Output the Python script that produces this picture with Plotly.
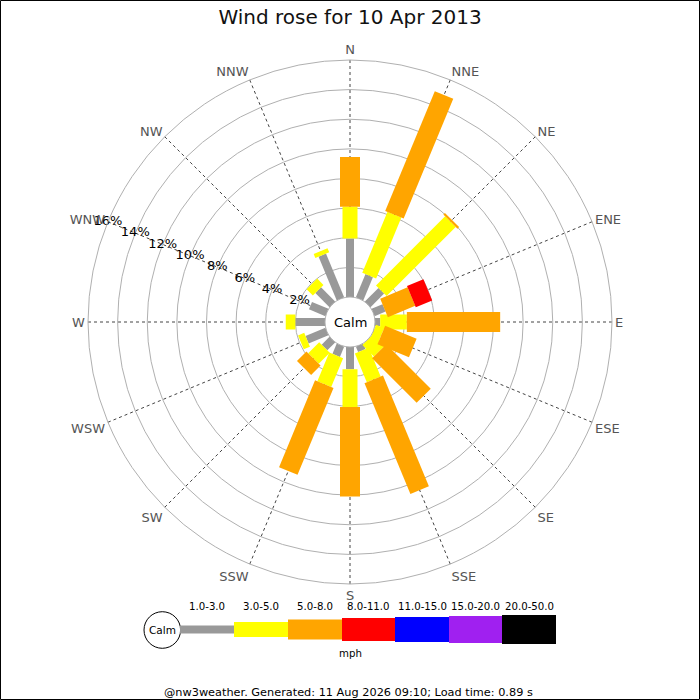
import plotly.graph_objects as go

# Wind directions (clockwise from north) and speed bins (mph)
directions = ['N', 'NNE', 'NE', 'ENE', 'E', 'ESE', 'SE', 'SSE',
              'S', 'SSW', 'SW', 'WSW', 'W', 'WNW', 'NW', 'NNW']
dir_angles = [i * 22.5 for i in range(len(directions))]
speed_bins = ['1.0-3.0', '3.0-5.0', '5.0-8.0', '8.0-11.0',
              '11.0-15.0', '15.0-20.0', '20.0-50.0']

# Percentage of time in each speed bin, per direction
pct_1_3 = [3.95, 1.7, 1.3, 0.8, 0.35, 0.0, 0.0, 0.4, 1.5, 0.75, 0.75, 1.45, 2.0, 1.2, 1.35, 3.2]
pct_3_5 = [2.15, 4.45, 6.6, 0.0, 1.8, 0.6, 1.1, 2.1, 2.55, 2.1, 1.05, 0.45, 0.65, 0.0, 0.6, 0.3]
pct_5_8 = [3.35, 8.75, 0.15, 2.0, 6.3, 2.3, 4.25, 8.1, 6.05, 6.35, 0.9, 0.0, 0.0, 0.0, 0.0, 0.0]
pct_8_11 = [0.0, 0.0, 0.0, 1.2, 0.0, 0.0, 0.0, 0.0, 0.0, 0.0, 0.0, 0.0, 0.0, 0.0, 0.0, 0.0]
pct_11_15 = [0.0] * 16
pct_15_20 = [0.0] * 16
pct_20_50 = [0.0] * 16

radial_ticks = [2, 4, 6, 8, 10, 12, 14, 16]

series = [pct_1_3, pct_3_5, pct_5_8, pct_8_11, pct_11_15, pct_15_20, pct_20_50]
colors = ['#999999', '#ffff00', '#ffa500', '#ff0000', '#0000ff', '#a020f0', '#000000']
bar_px = [8, 15, 20, 23, 25, 27, 29]  # bar thickness in pixels, grows with speed

FONT = 'DejaVu Sans'


def px_x(x):
    return x / 700


def px_y(y):
    return 1 - y / 700


fig = go.Figure()

# stacked segments drawn as thick radial lines (constant pixel width like the original)
base = [0.0] * len(directions)
for vals, col, w, name in zip(series, colors, bar_px, speed_bins):
    r, th = [], []
    for i, v in enumerate(vals):
        if v > 0:
            r += [base[i], base[i] + v, None]
            th += [dir_angles[i], dir_angles[i], None]
        base[i] += v
    if r:
        fig.add_trace(go.Scatterpolar(r=r, theta=th, mode='lines', name=name,
                                      line=dict(color=col, width=w),
                                      connectgaps=False, hoverinfo='skip',
                                      showlegend=False))

# radial percentage labels along the WNW spoke
fig.add_trace(go.Scatterpolar(r=radial_ticks, theta=[292.5] * len(radial_ticks),
                              mode='text', text=[f'{t}%' for t in radial_ticks],
                              textfont=dict(family=FONT, size=13, color='black'),
                              hoverinfo='skip', showlegend=False))

fig.update_layout(
    width=700, height=700,
    margin=dict(l=0, r=0, t=0, b=0),
    paper_bgcolor='white',
    font=dict(family=FONT),
    title=dict(text='Wind rose for 10 Apr 2013', x=0.5, xanchor='center',
               y=px_y(17), yref='container', yanchor='middle',
               font=dict(family=FONT, size=20, color='#111111')),
    polar=dict(
        domain=dict(x=[px_x(88), px_x(612)], y=[px_y(584), px_y(60)]),
        hole=25 / 262,
        bgcolor='white',
        radialaxis=dict(range=[0, 16], tickvals=radial_ticks, showticklabels=False,
                        showline=False, ticks='', gridcolor='#b0b0b0', gridwidth=1),
        angularaxis=dict(rotation=90, direction='clockwise', thetaunit='degrees',
                         tickmode='array', tickvals=dir_angles, ticktext=directions,
                         ticks='', showline=True, linecolor='#b0b0b0', linewidth=1,
                         gridcolor='#444444', griddash='dot', gridwidth=1,
                         tickfont=dict(family=FONT, size=13, color='#555555')),
    ),
)


def label(x, y, text, size, color='black'):
    fig.add_annotation(x=px_x(x), y=px_y(y), xref='paper', yref='paper', text=text,
                       xanchor='center', yanchor='middle', showarrow=False,
                       font=dict(family=FONT, size=size, color=color))


# centre label
label(350, 322, 'Calm', 13)

# custom legend along the bottom
lx = [180, 234, 288, 342, 395, 449, 502, 556]
ly = 629.5
fig.add_shape(type='circle', xref='paper', yref='paper',
              x0=px_x(144), x1=px_x(180.6), y0=px_y(648.3), y1=px_y(611.7),
              line=dict(color='black', width=1), fillcolor='white')
label(162.3, 630, 'Calm', 10.5)
for i, (name, col, w) in enumerate(zip(speed_bins, colors, bar_px)):
    fig.add_shape(type='rect', xref='paper', yref='paper',
                  x0=px_x(lx[i]), x1=px_x(lx[i + 1]),
                  y0=px_y(ly + w / 2), y1=px_y(ly - w / 2),
                  line=dict(width=0), fillcolor=col)
    label((lx[i] + lx[i + 1]) / 2, 606.7, name, 10.2)
label(350.7, 653.5, 'mph', 10.2)

# footer
label(348, 692.5, '@nw3weather. Generated: 11 Aug 2026 09:10; Load time: 0.89 s', 11.3)

# image frame
fig.add_shape(type='rect', xref='paper', yref='paper', x0=0.0007, x1=0.9993,
              y0=0.0007, y1=0.9993, line=dict(color='black', width=1))

fig.write_html('out.html', config={'displayModeBar': False},
               post_script="document.body.style.margin='0px';")
